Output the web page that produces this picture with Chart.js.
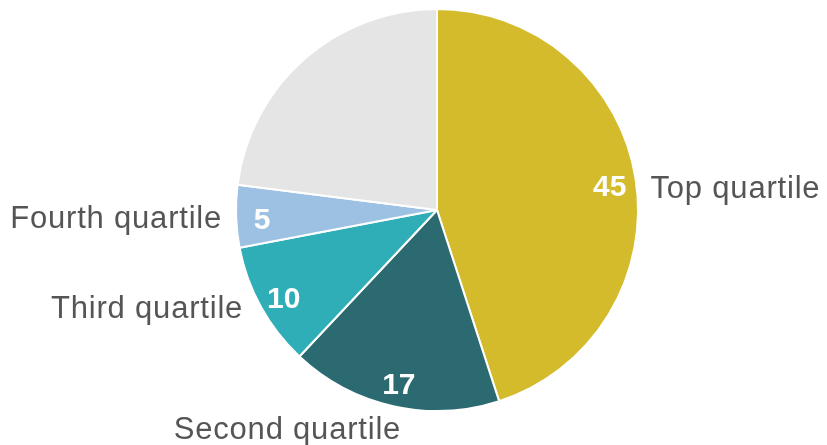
<!DOCTYPE html>
<html>
<head>
<meta charset="utf-8">
<script src="https://cdn.jsdelivr.net/npm/chart.js@4.4.1/dist/chart.umd.min.js"></script>
<style>
    html, body { margin: 0; padding: 0; background: #fff; }
    #wrap { width: 827px; height: 445px; position: relative; }
</style>
</head>
<body>
<div id="wrap"><canvas id="pieChart"></canvas></div>
<script>
// 資料
const categories = ['Top quartile', 'Second quartile', 'Third quartile', 'Fourth quartile', ''];
const shares = [45, 17, 10, 5, 23];
const valueLabels = ['45', '17', '10', '5', ''];
const sliceColors = ['#D4BB2B', '#2C6A72', '#30AEB7', '#9DC1E3', '#E5E5E5'];

// 標籤繪製插件
const sliceLabels = {
    id: 'sliceLabels',
    afterDatasetsDraw(chart) {
        const ctx = chart.ctx;
        const arcs = chart.getDatasetMeta(0).data;
        ctx.save();
        arcs.forEach((arc, i) => {
            const mid = (arc.startAngle + arc.endAngle) / 2;
            const dx = Math.cos(mid);
            const dy = Math.sin(mid);
            const r = arc.outerRadius;

            // 數值（白色粗體）
            if (valueLabels[i]) {
                ctx.font = 'bold 30px "Liberation Sans", Arial, sans-serif';
                ctx.letterSpacing = '0px';
                ctx.fillStyle = '#ffffff';
                ctx.textAlign = 'center';
                ctx.textBaseline = 'middle';
                ctx.fillText(valueLabels[i], arc.x + dx * r * 0.87, arc.y + dy * r * 0.87 + 5);
            }

            // 外部類別名稱
            if (categories[i]) {
                const ex = arc.x + dx * r;
                const ey = arc.y + dy * r;
                ctx.font = '31px "Liberation Sans", Arial, sans-serif';
                ctx.letterSpacing = '0.8px';
                ctx.fillStyle = '#555555';
                ctx.textBaseline = 'middle';
                if (dx > 0.5) {
                    ctx.textAlign = 'left';
                    ctx.fillText(categories[i], ex + 15, ey + 11);
                } else if (dx < -0.5) {
                    ctx.textAlign = 'right';
                    ctx.fillText(categories[i], ex - 14 - (1 + dx) * 30, ey + 3);
                } else {
                    ctx.textAlign = 'right';
                    ctx.fillText(categories[i], ex + 8, ey + 24);
                }
            }
        });
        ctx.restore();
    }
};

const ctx = document.getElementById('pieChart').getContext('2d');
new Chart(ctx, {
    type: 'pie',
    data: {
        labels: categories,
        datasets: [{
            data: shares,
            backgroundColor: sliceColors,
            borderColor: '#ffffff',
            borderWidth: 2
        }]
    },
    options: {
        responsive: true,
        maintainAspectRatio: false,
        animation: false,
        layout: {
            padding: { left: 235, right: 188, top: 8, bottom: 33 }
        },
        plugins: {
            legend: { display: false },
            tooltip: { enabled: false }
        }
    },
    plugins: [sliceLabels]
});
</script>
</body>
</html>
